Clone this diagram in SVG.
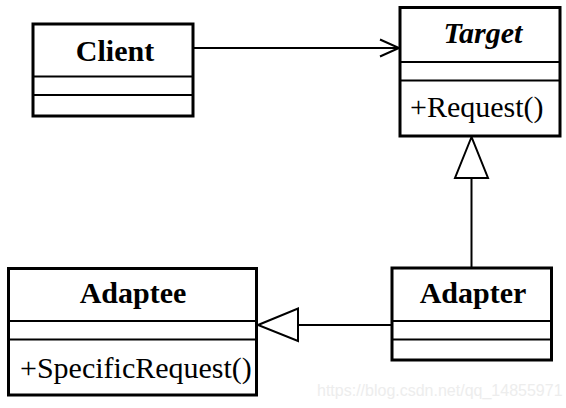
<svg xmlns="http://www.w3.org/2000/svg" width="566" height="408" viewBox="0 0 566 408">
<style>
.box{fill:#fff;stroke:#000;stroke-width:3}
.div{stroke:#000;stroke-width:2.2}
.t{font-family:"Liberation Serif","Times New Roman",serif;font-size:30px;fill:#000}
.b{font-weight:bold}
.c{text-anchor:middle}
.ln{stroke:#000;stroke-width:2;fill:none}
.tri{fill:#fff;stroke:#000;stroke-width:2}
.wm{font-family:"Liberation Sans",Arial,sans-serif;font-size:16px;fill:#ededed}
</style>
<rect width="566" height="408" fill="#fff"/>
<g id="connectors">
<line class="ln" x1="193" y1="48" x2="399" y2="48"/>
<polyline class="ln" points="380,39.5 399,48 380,56.5"/>
<line class="ln" x1="471.5" y1="178" x2="471.5" y2="268"/>
<polygon class="tri" points="471.5,137 455,178 488,178"/>
<line class="ln" x1="298" y1="325" x2="392" y2="325"/>
<polygon class="tri" points="258,325 298,308.5 298,341"/>
</g>
<g id="client">
<rect class="box" x="33" y="24" width="160" height="92"/>
<line class="div" x1="33" y1="76.5" x2="193" y2="76.5"/>
<line class="div" x1="33" y1="95" x2="193" y2="95"/>
<text class="t b c" x="115" y="61">Client</text>
</g>
<g id="target">
<rect class="box" x="400" y="7.5" width="160" height="128.5"/>
<line class="div" x1="400" y1="62" x2="560" y2="62"/>
<line class="div" x1="400" y1="80.5" x2="560" y2="80.5"/>
<text class="t b c" x="483" y="43" font-style="italic">Target</text>
<text class="t" x="410" y="117">+Request()</text>
</g>
<g id="adapter">
<rect class="box" x="392" y="268" width="159.5" height="92"/>
<line class="div" x1="392" y1="321" x2="551.5" y2="321"/>
<line class="div" x1="392" y1="339.5" x2="551.5" y2="339.5"/>
<text class="t b c" x="473" y="303">Adapter</text>
</g>
<g id="adaptee">
<rect class="box" x="8.5" y="268.5" width="248" height="126.5"/>
<line class="div" x1="8.5" y1="321" x2="256.5" y2="321"/>
<line class="div" x1="8.5" y1="339.5" x2="256.5" y2="339.5"/>
<text class="t b c" x="133" y="303">Adaptee</text>
<text class="t" x="20" y="378">+SpecificRequest()</text>
</g>
<text class="wm" x="317" y="396">https://blog.csdn.net/qq_14855971</text>
</svg>
